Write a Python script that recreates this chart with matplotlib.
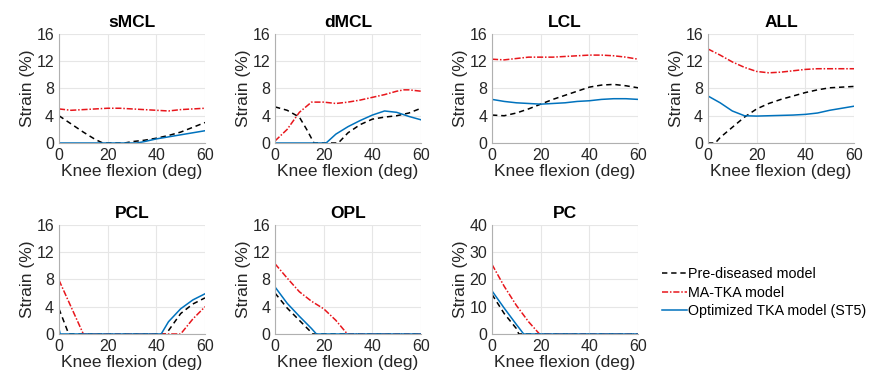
import matplotlib.pyplot as plt
from matplotlib.lines import Line2D

plt.rcParams['font.family'] = ['Liberation Sans', 'DejaVu Sans']

# ligament names and y-axis limits
ligaments = ["sMCL", "dMCL", "LCL", "ALL", "PCL", "OPL", "PC"]
ymax = [16, 16, 16, 16, 16, 16, 40]

angle = [0, 5, 10, 15, 20, 25, 30, 35, 40, 45, 50, 55, 60]

# sMCL
smcl_pre_x = [0, 5, 10, 15, 18, 27, 30, 35, 40, 45, 50, 55, 60]
smcl_pre_y = [4.0, 2.8, 1.6, 0.5, 0.0, 0.0, 0.2, 0.4, 0.7, 1.1, 1.6, 2.3, 3.0]
smcl_ma_y = [5.0, 4.8, 4.9, 5.0, 5.1, 5.1, 5.0, 4.9, 4.8, 4.7, 4.9, 5.0, 5.1]
smcl_opt_x = [0, 32, 35, 40, 45, 50, 55, 60]
smcl_opt_y = [0.0, 0.0, 0.2, 0.6, 0.9, 1.2, 1.5, 1.8]

# dMCL
dmcl_pre_x = [0, 5, 10, 13, 16, 26, 30, 35, 40, 45, 50, 55, 60]
dmcl_pre_y = [5.3, 4.8, 3.8, 2.0, 0.0, 0.0, 1.5, 2.7, 3.5, 3.8, 4.0, 4.4, 5.1]
dmcl_ma_x = [0, 5, 10, 15, 20, 25, 30, 35, 40, 45, 50, 53, 55, 60]
dmcl_ma_y = [0.3, 2.0, 4.5, 6.0, 6.0, 5.8, 6.0, 6.3, 6.7, 7.1, 7.6, 7.8, 7.8, 7.6]
dmcl_opt_x = [0, 21, 25, 30, 35, 40, 45, 50, 55, 60]
dmcl_opt_y = [0.0, 0.0, 1.3, 2.4, 3.3, 4.1, 4.7, 4.5, 3.9, 3.4]

# LCL
lcl_pre_y = [4.1, 4.0, 4.4, 5.0, 5.7, 6.4, 7.0, 7.6, 8.2, 8.5, 8.6, 8.4, 8.1]
lcl_ma_y = [12.3, 12.2, 12.4, 12.6, 12.6, 12.6, 12.7, 12.8, 12.9, 12.9, 12.8, 12.6, 12.3]
lcl_opt_y = [6.4, 6.1, 5.9, 5.8, 5.7, 5.8, 5.9, 6.1, 6.2, 6.4, 6.5, 6.5, 6.4]

# ALL
all_pre_x = [0, 3, 5, 10, 15, 20, 25, 30, 35, 40, 45, 50, 55, 60]
all_pre_y = [0.0, 0.0, 0.8, 2.3, 3.8, 5.0, 5.8, 6.4, 6.9, 7.4, 7.8, 8.1, 8.2, 8.3]
all_ma_y = [13.8, 12.9, 11.9, 11.1, 10.5, 10.3, 10.4, 10.6, 10.8, 10.9, 10.9, 10.9, 10.9]
all_opt_y = [6.9, 5.9, 4.7, 4.0, 3.95, 4.0, 4.05, 4.1, 4.2, 4.4, 4.8, 5.1, 5.4]

# PCL
pcl_pre_x = [0, 4, 44, 50, 55, 60]
pcl_pre_y = [3.7, 0.0, 0.0, 3.0, 4.4, 5.3]
pcl_ma_x = [0, 10, 50, 55, 60]
pcl_ma_y = [7.9, 0.0, 0.0, 2.2, 4.0]
pcl_opt_x = [0, 0.5, 42, 45, 50, 55, 60]
pcl_opt_y = [0.8, 0.0, 0.0, 1.8, 3.7, 5.0, 5.9]

# OPL
opl_pre_x = [0, 5, 10, 15, 15.5, 60]
opl_pre_y = [6.0, 3.8, 2.0, 0.2, 0.0, 0.0]
opl_ma_x = [0, 5, 10, 15, 20, 25, 29.7, 60]
opl_ma_y = [10.3, 8.2, 6.2, 4.8, 3.7, 2.0, 0.0, 0.0]
opl_opt_x = [0, 5, 10, 15, 17, 60]
opl_opt_y = [6.9, 4.5, 2.6, 0.8, 0.0, 0.0]

# PC
pc_pre_x = [0, 5, 10, 11, 60]
pc_pre_y = [14.5, 7.5, 2.0, 0.0, 0.0]
pc_ma_x = [0, 5, 10, 15, 19.5, 60]
pc_ma_y = [25.5, 17.5, 10.5, 4.5, 0.0, 0.0]
pc_opt_x = [0, 5, 10, 13, 60]
pc_opt_y = [15.8, 9.5, 3.5, 0.0, 0.0]

series = [
    ((smcl_pre_x, smcl_pre_y), (angle, smcl_ma_y), (smcl_opt_x, smcl_opt_y)),
    ((dmcl_pre_x, dmcl_pre_y), (dmcl_ma_x, dmcl_ma_y), (dmcl_opt_x, dmcl_opt_y)),
    ((angle, lcl_pre_y), (angle, lcl_ma_y), (angle, lcl_opt_y)),
    ((all_pre_x, all_pre_y), (angle, all_ma_y), (angle, all_opt_y)),
    ((pcl_pre_x, pcl_pre_y), (pcl_ma_x, pcl_ma_y), (pcl_opt_x, pcl_opt_y)),
    ((opl_pre_x, opl_pre_y), (opl_ma_x, opl_ma_y), (opl_opt_x, opl_opt_y)),
    ((pc_pre_x, pc_pre_y), (pc_ma_x, pc_ma_y), (pc_opt_x, pc_opt_y)),
]

legend_labels = ["Pre-diseased model", "MA-TKA model", "Optimized TKA model (ST5)"]
colors = ["black", "#e8161c", "#0072bd"]
styles = [(0, (3.5, 2.5)), (0, (4, 1.2, 1, 1.2)), "-"]

fig = plt.figure(figsize=(8.75, 3.87), dpi=100)

lefts = [0.0674, 0.3143, 0.5623, 0.8091]
bottoms = [0.6305, 0.137]
w, h = 0.1669, 0.2817

for i, name in enumerate(ligaments):
    row, col = divmod(i, 4)
    ax = fig.add_axes([lefts[col], bottoms[row], w, h])
    for (xs, ys), c, ls in zip(series[i], colors, styles):
        ax.plot(xs, ys, color=c, linestyle=ls, linewidth=1.1)
    ax.set_xlim(0, 60)
    ax.set_ylim(0, ymax[i])
    ax.set_xticks([0, 20, 40, 60])
    ax.set_yticks([0, ymax[i] / 4, ymax[i] / 2, 3 * ymax[i] / 4, ymax[i]])
    ax.set_yticklabels([str(int(v)) for v in ax.get_yticks()])
    ax.grid(True, color="#e6e6e6", linewidth=0.8)
    ax.set_axisbelow(True)
    for s in ["top", "right"]:
        ax.spines[s].set_visible(False)
    for s in ["left", "bottom"]:
        ax.spines[s].set_color("#b0b0b0")
    ax.tick_params(length=0, labelsize=11.5, colors="#262626", pad=3.5)
    ax.set_title(name, fontsize=12.5, fontweight="bold", pad=5)
    ax.set_xlabel("Knee flexion (deg)", fontsize=12.5, color="#262626", labelpad=1)
    ax.set_ylabel("Strain (%)", fontsize=12.5, color="#262626", labelpad=1)

handles = [Line2D([], [], color=c, linestyle=ls, linewidth=1.1) for c, ls in zip(colors, styles)]
fig.legend(handles, legend_labels, loc="upper left", bbox_to_anchor=(0.756, 0.31),
           frameon=False, fontsize=10.3, handlelength=1.75, handletextpad=0.1,
           labelspacing=0.32, borderaxespad=0, borderpad=0)

fig.savefig("out.png", dpi=100)
